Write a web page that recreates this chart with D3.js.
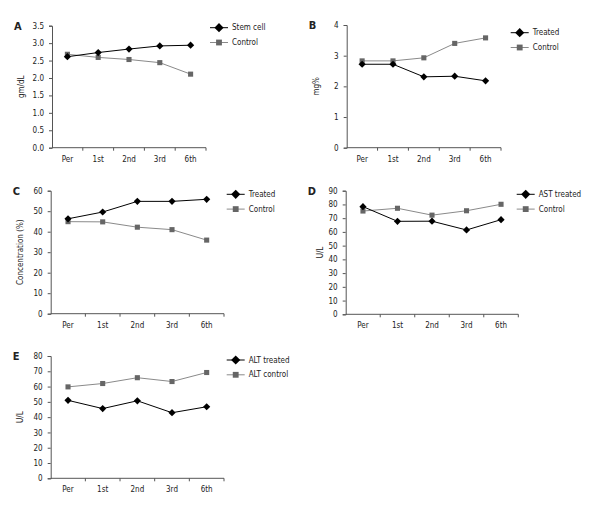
<!DOCTYPE html>
<html>
<head>
<meta charset="utf-8">
<script src="https://cdn.jsdelivr.net/npm/d3@7"></script>
<style>
  html, body { margin: 0; padding: 0; background: #fff; }
  svg text { font-family: 'DejaVu Sans Condensed', 'DejaVu Sans', sans-serif; font-stretch: condensed; fill: #222; }
</style>
</head>
<body>
<div id="chart"></div>
<script>
(function () {
  'use strict';

  const TIMES = ['Per', '1st', '2nd', '3rd', '6th'];

  // A
  const A_STEM    = [2.61, 2.73, 2.83, 2.92, 2.94];
  const A_CONTROL = [2.68, 2.59, 2.53, 2.44, 2.11];
  // B
  const B_TREATED = [2.72, 2.72, 2.31, 2.33, 2.18];
  const B_CONTROL = [2.83, 2.83, 2.93, 3.40, 3.58];
  // C
  const C_TREATED = [46.3, 49.6, 54.8, 54.8, 55.8];
  const C_CONTROL = [44.9, 44.8, 42.2, 41.0, 35.9];
  // D
  const D_TREATED = [78.4, 67.7, 67.8, 61.4, 68.9];
  const D_CONTROL = [75.2, 77.2, 72.2, 75.4, 80.1];
  // E
  const E_TREATED = [51.0, 45.6, 50.7, 42.9, 46.8];
  const E_CONTROL = [59.8, 62.0, 65.8, 63.3, 69.2];

  const PANELS = [
    { id: 'A', yLabel: 'gm/dL', yMax: 3.5, yStep: 0.5, fmt: '.1f',
      names: ['Stem cell', 'Control'], series: [A_STEM, A_CONTROL],
      box: { l: 52, r: 206, t: 25.7, b: 147.7 }, leg: { x: 210, y: 27.7 }, ylx: 21.7 },
    { id: 'B', yLabel: 'mg%', yMax: 4, yStep: 1, fmt: 'd',
      names: ['Treated', 'Control'], series: [B_TREATED, B_CONTROL],
      box: { l: 346.7, r: 501, t: 25, b: 147.7 }, leg: { x: 510.7, y: 32.7 }, ylx: 316.7 },
    { id: 'C', yLabel: 'Concentration (%)', yMax: 60, yStep: 10, fmt: 'd',
      names: ['Treated', 'Control'], series: [C_TREATED, C_CONTROL],
      box: { l: 50.7, r: 224, t: 190.7, b: 313.7 }, leg: { x: 226.7, y: 194.3 }, ylx: 20 },
    { id: 'D', yLabel: 'U/L', yMax: 90, yStep: 10, fmt: 'd',
      names: ['AST treated', 'Control'], series: [D_TREATED, D_CONTROL],
      box: { l: 345.7, r: 518.3, t: 190.7, b: 314.3 }, leg: { x: 516.7, y: 194.3 }, ylx: 320 },
    { id: 'E', yLabel: 'U/L', yMax: 80, yStep: 10, fmt: 'd',
      names: ['ALT treated', 'ALT control'], series: [E_TREATED, E_CONTROL],
      box: { l: 50.7, r: 224, t: 356, b: 478.3 }, leg: { x: 226.7, y: 360 }, ylx: 20 },
  ];

  // treated: black diamond (square turned 45deg); control: grey square
  const STYLES = [
    { line: '#000', mark: '#000', rot: 45, size: 26, legSize: 42 },
    { line: '#8a8a8a', mark: '#666', rot: 0, size: 26, legSize: 34 },
  ];

  const svg = d3.select('#chart').append('svg')
    .attr('width', 600).attr('height', 517);

  function drawPanel(p) {
    const g = svg.append('g');
    const b = p.box;

    const x = d3.scaleBand().domain(TIMES).range([b.l, b.r]);
    const y = d3.scaleLinear().domain([0, p.yMax]).range([b.b, b.t]);
    const yTicks = d3.range(0, p.yMax + p.yStep / 2, p.yStep);

    // y axis
    const yAxis = g.append('g')
      .attr('transform', `translate(${b.l},0)`)
      .call(d3.axisLeft(y).tickValues(yTicks).tickSize(3).tickPadding(5)
        .tickFormat(d3.format(p.fmt)));
    yAxis.select('.domain').attr('stroke', '#555');
    yAxis.selectAll('.tick line').attr('stroke', '#555');
    yAxis.selectAll('text').attr('font-size', '8px').attr('fill', '#444');

    // x axis: ticks at band boundaries
    const xAxis = g.append('g').attr('transform', `translate(0,${b.b})`);
    xAxis.append('line').attr('x1', b.l).attr('x2', b.r)
      .attr('stroke', '#555');
    xAxis.selectAll('line.bt')
      .data(TIMES)
      .join('line')
      .attr('class', 'bt')
      .attr('x1', d => x(d) + x.bandwidth()).attr('x2', d => x(d) + x.bandwidth())
      .attr('y1', 0).attr('y2', 3)
      .attr('stroke', '#555');
    xAxis.selectAll('text')
      .data(TIMES)
      .join('text')
      .attr('x', d => x(d) + x.bandwidth() / 2)
      .attr('y', 14)
      .attr('text-anchor', 'middle')
      .attr('font-size', '8px')
      .attr('fill', '#444')
      .text(d => d);

    // panel letter
    g.append('text')
      .attr('x', b.l - 38).attr('y', b.t + 4)
      .attr('font-size', '11px').attr('font-weight', 'bold')
      .attr('fill', '#000')
      .style('font-family', "'DejaVu Sans', sans-serif")
      .text(p.id);

    // y label
    g.append('text')
      .attr('transform', `translate(${p.ylx},${(b.t + b.b) / 2}) rotate(-90)`)
      .attr('text-anchor', 'middle')
      .attr('dominant-baseline', 'central')
      .attr('font-size', '8px')
      .attr('fill', '#444')
      .text(p.yLabel);

    const line = d3.line()
      .x((d, i) => x(TIMES[i]) + x.bandwidth() / 2)
      .y(d => y(d));

    // control first so treated sits on top
    [1, 0].forEach(si => {
      const st = STYLES[si];
      const vals = p.series[si];
      g.append('path')
        .datum(vals)
        .attr('fill', 'none')
        .attr('stroke', st.line)
        .attr('stroke-width', 1)
        .attr('d', line);
      g.selectAll('path.m' + si)
        .data(vals)
        .join('path')
        .attr('class', 'm' + si)
        .attr('transform', (d, i) =>
          `translate(${x(TIMES[i]) + x.bandwidth() / 2},${y(d)}) rotate(${st.rot})`)
        .attr('d', d3.symbol().type(d3.symbolSquare).size(st.size))
        .attr('fill', st.mark);
    });

    // legend
    p.names.forEach((name, si) => {
      const st = STYLES[si];
      const ly = p.leg.y + si * 14.8;
      const lg = g.append('g').attr('transform', `translate(${p.leg.x},${ly})`);
      lg.append('line').attr('x1', 0).attr('x2', 18)
        .attr('stroke', st.line).attr('stroke-width', 1);
      lg.append('path')
        .attr('transform', `translate(9,0) rotate(${st.rot})`)
        .attr('d', d3.symbol().type(d3.symbolSquare).size(st.legSize))
        .attr('fill', st.mark);
      lg.append('text')
        .attr('x', 22).attr('y', 0)
        .attr('dominant-baseline', 'central')
        .attr('font-size', '8px')
        .attr('fill', '#222')
        .text(name);
    });
  }

  PANELS.forEach(drawPanel);
})();
</script>
</body>
</html>
